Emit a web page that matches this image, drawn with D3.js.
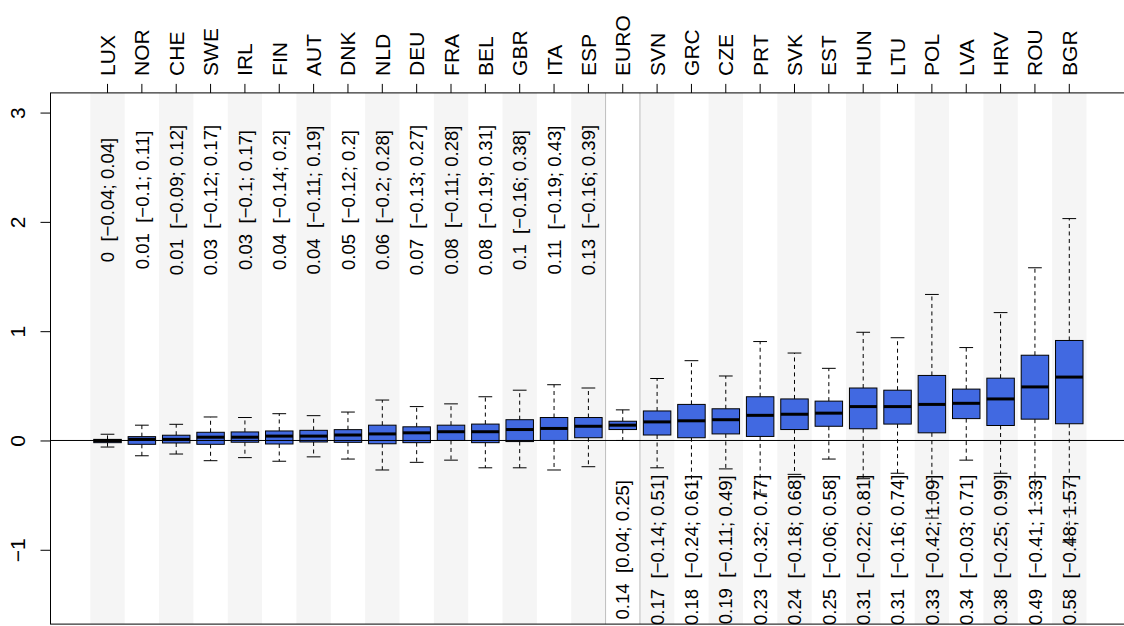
<!DOCTYPE html>
<html>
<head>
<meta charset="utf-8">
<script src="https://cdn.jsdelivr.net/npm/d3@7"></script>
<style>
  html, body { margin: 0; padding: 0; background: #ffffff; }
  svg { display: block; font-family: "Liberation Sans", Arial, Helvetica, sans-serif; }
</style>
</head>
<body>
<svg id="chart" width="1124" height="626"></svg>
<script>
// Country groups, ordered by the median estimate
const categories = ["LUX","NOR","CHE","SWE","IRL","FIN","AUT","DNK","NLD","DEU","FRA","BEL","GBR","ITA","ESP",
                    "EURO","SVN","GRC","CZE","PRT","SVK","EST","HUN","LTU","POL","LVA","HRV","ROU","BGR"];

// Box statistics per group
const medians = [0, 0.01, 0.01, 0.03, 0.03, 0.04, 0.04, 0.05, 0.06, 0.07, 0.08, 0.08, 0.1, 0.11, 0.13,
                 0.14, 0.17, 0.18, 0.19, 0.23, 0.24, 0.25, 0.31, 0.31, 0.33, 0.34, 0.38, 0.49, 0.58];
const q1 = [-0.02, -0.035, -0.023, -0.035, -0.016, -0.032, -0.014, -0.017, -0.03, -0.02, 0.0, -0.02, -0.01, 0.0, 0.025,
            0.10, 0.05, 0.025, 0.06, 0.037, 0.10, 0.13, 0.107, 0.15, 0.07, 0.20, 0.137, 0.195, 0.153];
const q3 = [0.01, 0.035, 0.048, 0.075, 0.078, 0.087, 0.093, 0.099, 0.14, 0.125, 0.14, 0.15, 0.19, 0.21, 0.21,
            0.176, 0.27, 0.33, 0.29, 0.40, 0.38, 0.36, 0.48, 0.46, 0.595, 0.47, 0.57, 0.78, 0.915];
const whiskerLow = [-0.06, -0.14, -0.124, -0.185, -0.157, -0.19, -0.15, -0.17, -0.27, -0.2, -0.18, -0.25, -0.25, -0.27, -0.24,
                    0.0, -0.25, -0.40, -0.26, -0.49, -0.31, -0.17, -0.35, -0.30, -0.71, -0.18, -0.30, -0.64, -0.93];
const whiskerHigh = [0.057, 0.14, 0.148, 0.215, 0.21, 0.245, 0.227, 0.26, 0.37, 0.31, 0.335, 0.40, 0.46, 0.51, 0.48,
                     0.28, 0.567, 0.73, 0.59, 0.905, 0.80, 0.66, 0.99, 0.94, 1.336, 0.85, 1.17, 1.58, 2.03];

// Interval bounds printed next to each median
const ciLow = [-0.04, -0.1, -0.09, -0.12, -0.1, -0.14, -0.11, -0.12, -0.2, -0.13, -0.11, -0.19, -0.16, -0.19, -0.16,
               0.04, -0.14, -0.24, -0.11, -0.32, -0.18, -0.06, -0.22, -0.16, -0.42, -0.03, -0.25, -0.41, -0.48];
const ciHigh = [0.04, 0.11, 0.12, 0.17, 0.17, 0.2, 0.19, 0.2, 0.28, 0.27, 0.28, 0.31, 0.38, 0.43, 0.39,
                0.25, 0.51, 0.61, 0.49, 0.77, 0.68, 0.58, 0.81, 0.74, 1.09, 0.71, 0.99, 1.33, 1.57];

// Y axis ticks and label anchor heights
const yTicks = [-1, 0, 1, 2, 3];
const yDomain = [-1.68, 3.18];
const labelYTop = 2.2;      // centre of labels for the low group
const labelYBottom = -1;    // centre of labels for the high group
const splitIndex = 15;      // first group labelled at the bottom (EURO onward)

const svg = d3.select("#chart");

const plot = { left: 50.5, right: 1126.3, top: 92.9, bottom: 624.1 };
const step = (plot.right - plot.left) / 31.32;
const x = d3.scaleBand()
  .domain(categories)
  .range([plot.left + 1.16 * step, plot.right - 1.16 * step])
  .paddingInner(0).paddingOuter(0);
const y = d3.scaleLinear().domain(yDomain).range([plot.bottom, plot.top]);

const bw = x.bandwidth();
const boxW = bw * 0.8;
const capW = boxW * 0.5;
const cx = c => x(c) + bw / 2;

const fmt = v => {
  const s = (+v.toFixed(2)).toString();
  return v < 0 ? "\u2212" + s.slice(1) : s;
};

const rows = categories.map((c, i) => ({
  c, i, med: medians[i], q1: q1[i], q3: q3[i], lo: whiskerLow[i], hi: whiskerHigh[i],
  label: fmt(medians[i]) + "  [" + fmt(ciLow[i]) + "; " + fmt(ciHigh[i]) + "]"
}));

// Alternating background bands (EURO left unshaded)
svg.append("g").selectAll("rect")
  .data(rows.filter(d => d.i % 2 === 0))
  .join("rect")
  .attr("x", d => x(d.c))
  .attr("width", bw)
  .attr("y", plot.top)
  .attr("height", plot.bottom - plot.top)
  .attr("fill", "#f5f5f5");

// Separators around the EURO column
svg.append("g").selectAll("line")
  .data([x("EURO"), x("EURO") + bw])
  .join("line")
  .attr("x1", d => d).attr("x2", d => d)
  .attr("y1", plot.top).attr("y2", plot.bottom)
  .attr("stroke", "#bebebe").attr("stroke-width", 1);

// Boxplots
const g = svg.append("g").selectAll("g").data(rows).join("g");

g.append("line") // upper whisker
  .attr("x1", d => cx(d.c)).attr("x2", d => cx(d.c))
  .attr("y1", d => y(d.q3)).attr("y2", d => y(d.hi))
  .attr("stroke", "#000").attr("stroke-dasharray", "4,3.5");
g.append("line") // lower whisker
  .attr("x1", d => cx(d.c)).attr("x2", d => cx(d.c))
  .attr("y1", d => y(d.q1)).attr("y2", d => y(d.lo))
  .attr("stroke", "#000").attr("stroke-dasharray", "4,3.5");
g.append("line") // upper cap
  .attr("x1", d => cx(d.c) - capW / 2).attr("x2", d => cx(d.c) + capW / 2)
  .attr("y1", d => y(d.hi)).attr("y2", d => y(d.hi))
  .attr("stroke", "#000");
g.append("line") // lower cap
  .attr("x1", d => cx(d.c) - capW / 2).attr("x2", d => cx(d.c) + capW / 2)
  .attr("y1", d => y(d.lo)).attr("y2", d => y(d.lo))
  .attr("stroke", "#000");
g.append("rect") // box
  .attr("x", d => cx(d.c) - boxW / 2)
  .attr("width", boxW)
  .attr("y", d => y(d.q3))
  .attr("height", d => y(d.q1) - y(d.q3))
  .attr("fill", "#4169e1").attr("stroke", "#000").attr("stroke-width", 1);
g.append("line") // median
  .attr("x1", d => cx(d.c) - boxW / 2).attr("x2", d => cx(d.c) + boxW / 2)
  .attr("y1", d => y(d.med)).attr("y2", d => y(d.med))
  .attr("stroke", "#000").attr("stroke-width", 3);

// Reference line at zero
svg.append("line")
  .attr("x1", plot.left).attr("x2", plot.right)
  .attr("y1", y(0)).attr("y2", y(0))
  .attr("stroke", "#000").attr("stroke-width", 1);

// Median and interval labels, written upward
const annFont = 18.6;
svg.append("g").selectAll("text")
  .data(rows)
  .join("text")
  .attr("transform", d => `translate(${cx(d.c)},${y(d.i < splitIndex ? labelYTop : labelYBottom)}) rotate(-90)`)
  .attr("text-anchor", "middle")
  .attr("dy", "0.358em")
  .attr("font-size", annFont)
  .attr("fill", "#000")
  .style("white-space", "pre")
  .text(d => d.label);

// Plot frame
svg.append("rect")
  .attr("x", plot.left).attr("y", plot.top)
  .attr("width", plot.right - plot.left).attr("height", plot.bottom - plot.top)
  .attr("fill", "none").attr("stroke", "#000").attr("stroke-width", 1);

// Top axis with country codes
const axisFont = 21;
const topAxis = svg.append("g")
  .attr("transform", `translate(0,${plot.top})`)
  .call(d3.axisTop(x).tickSize(9).tickSizeOuter(0));
topAxis.select(".domain").remove();
topAxis.selectAll(".tick line").attr("stroke", "#000");
topAxis.selectAll(".tick text")
  .attr("font-size", axisFont)
  .attr("font-family", "Liberation Sans, Arial, sans-serif")
  .attr("fill", "#000")
  .attr("transform", "rotate(-90)")
  .attr("text-anchor", "start")
  .attr("x", 17)
  .attr("y", 0)
  .attr("dy", "0.358em");

// Left axis
const leftAxis = svg.append("g")
  .attr("transform", `translate(${plot.left},0)`)
  .call(d3.axisLeft(y).tickValues(yTicks).tickFormat(d => d < 0 ? "\u2212" + Math.abs(d) : d).tickSize(10).tickSizeOuter(0));
leftAxis.select(".domain").remove();
leftAxis.selectAll(".tick line").attr("stroke", "#000");
leftAxis.selectAll(".tick text")
  .attr("font-size", axisFont)
  .attr("font-family", "Liberation Sans, Arial, sans-serif")
  .attr("fill", "#000")
  .attr("transform", "rotate(-90)")
  .attr("text-anchor", "middle")
  .attr("x", 0)
  .attr("y", -33)
  .attr("dy", "0.358em");
</script>
</body>
</html>
